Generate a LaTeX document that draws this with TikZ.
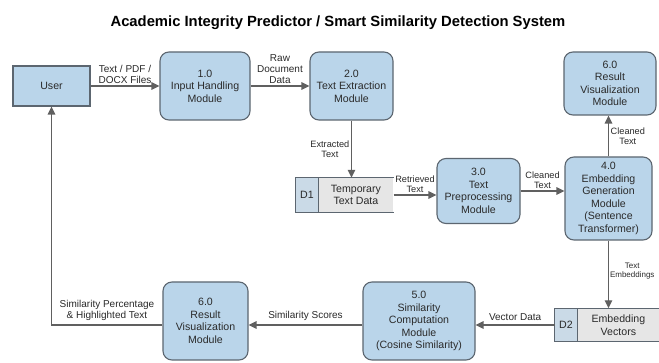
\documentclass[tikz,border=0pt]{standalone}
\usepackage{fontspec}
\setmainfont{Liberation Sans}
\usetikzlibrary{arrows.meta}
\definecolor{procfill}{HTML}{BAD5EA}
\definecolor{procedge}{HTML}{5C6670}
\definecolor{storefill}{HTML}{E6E6E6}
\definecolor{storeid}{HTML}{CADAE7}
\definecolor{flowgray}{HTML}{606060}
\definecolor{textdark}{HTML}{2A2A2A}
\tikzset{
  x=1pt, y=-1pt,
  proc/.style={draw=procedge, fill=procfill, line width=1.1pt, rounded corners=9pt,
    align=center, inner sep=2pt, text=textdark,
    font=\fontsize{10.6}{12.5}\selectfont},
  entity/.style={draw=procedge, fill=procfill, line width=1.1pt,
    align=center, text=textdark, font=\fontsize{10.6}{12.5}\selectfont},
  storecell/.style={fill=storefill, inner sep=0pt, align=center, text=textdark,
    font=\fontsize{10.6}{12.5}\selectfont},
  storekey/.style={fill=storeid, inner sep=0pt, align=center, text=textdark,
    font=\fontsize{10.6}{12.5}\selectfont},
  storeline/.style={draw=procedge, line width=1.1pt},
  flow/.style={draw=flowgray, line width=1.4pt, -{Triangle[length=8pt,width=7.5pt]}},
  flowlbl/.style={text=textdark, align=center, inner sep=1.5pt,
    font=\fontsize{10}{11}\selectfont},
  smalllbl/.style={text=textdark, align=center, inner sep=1.5pt,
    font=\fontsize{9.2}{10.2}\selectfont},
}
\begin{document}
\begin{tikzpicture}
\useasboundingbox (0,0) rectangle (659,363);
\fill[white] (0,0) rectangle (659,363);

% title
\node[font=\fontsize{14.8}{16}\selectfont\bfseries, text=black] (title) at (338,23)
  {Academic Integrity Predictor / Smart Similarity Detection System};

% external entity and processes
\node[entity, minimum width=77pt, minimum height=40pt] (user) at (51.5,86) {User};
\node[proc, minimum width=90pt, minimum height=68pt] (p1) at (205,86) {1.0\\Input Handling\\Module};
\node[proc, minimum width=83pt, minimum height=68pt] (p2) at (351.5,86) {2.0\\Text Extraction\\Module};
\node[proc, minimum width=92pt, minimum height=63pt] (p6t) at (610,83.5) {6.0\\Result\\Visualization\\Module};
\node[proc, minimum width=83pt, minimum height=65pt] (p3) at (478.5,191) {3.0\\Text\\Preprocessing\\Module};
\node[proc, minimum width=87pt, minimum height=83pt] (p4) at (608.5,198.5) {4.0\\Embedding\\Generation\\Module\\(Sentence\\Transformer)};
\node[proc, minimum width=112pt, minimum height=78pt] (p5) at (419,321) {5.0\\Similarity\\Computation\\Module\\(Cosine Similarity)};
\node[proc, minimum width=85pt, minimum height=78pt] (p6b) at (205.5,321) {6.0\\Result\\Visualization\\Module};

% data store D1 (open on the right)
\node[storekey, minimum width=22pt, minimum height=34pt] (d1k) at (307,195) {D1};
\node[storecell, minimum width=75pt, minimum height=34pt, anchor=west] (d1) at (d1k.east) {Temporary\\Text Data};
\draw[storeline] (d1.north east) -- (d1k.north west) -- (d1k.south west) -- (d1.south east);
\draw[storeline] (d1k.north east) -- (d1k.south east);

% data store D2 (open on the right)
\node[storekey, minimum width=22pt, minimum height=33pt] (d2k) at (566,325) {D2};
\node[storecell, minimum width=82pt, minimum height=33pt, anchor=west] (d2) at (d2k.east) {Embedding\\Vectors};
\draw[storeline] (d2.north east) -- (d2k.north west) -- (d2k.south west) -- (d2.south east);
\draw[storeline] (d2k.north east) -- (d2k.south east);

% data flows
\draw[flow] (user.east) -- (user.east -| p1.west)
  node[flowlbl, midway, above] {Text / PDF /\\DOCX Files};
\draw[flow] (p1.east) -- (p1.east -| p2.west)
  node[flowlbl, midway, above] {Raw\\Document\\Data};
\draw[flow] (p2.south) -- (p2.south |- d1.north)
  node[smalllbl, midway, left] {Extracted\\Text};
\draw[flow] (d1.east) -- (d1.east -| p3.west)
  node[smalllbl, midway, above] {Retrieved\\Text};
\draw[flow] (p3.east) -- (p3.east -| p4.west)
  node[smalllbl, midway, above] {Cleaned\\Text};
\draw[flow] (p4.north) -- (p4.north |- p6t.south)
  node[smalllbl, midway, right] {Cleaned\\Text};
\draw[flow] (p4.south) -- (p4.south |- d2.north)
  node[smalllbl, pos=0.45, right, inner sep=0.8pt, font=\fontsize{8}{9.6}\selectfont] {Text\\Embeddings};
\draw[flow] (d2k.west) -- (d2k.west -| p5.east)
  node[flowlbl, midway, above, yshift=2pt] {Vector Data};
\draw[flow] (p5.west |- d2k.west) -- (p6b.east |- d2k.west)
  node[flowlbl, midway, above, yshift=2pt] {Similarity Scores};
\draw[flow] (p6b.west |- d2k.west) -| (user.south)
  node[flowlbl, pos=0.25, above, yshift=2pt] {Similarity Percentage\\\& Highlighted Text};
\end{tikzpicture}
\end{document}
